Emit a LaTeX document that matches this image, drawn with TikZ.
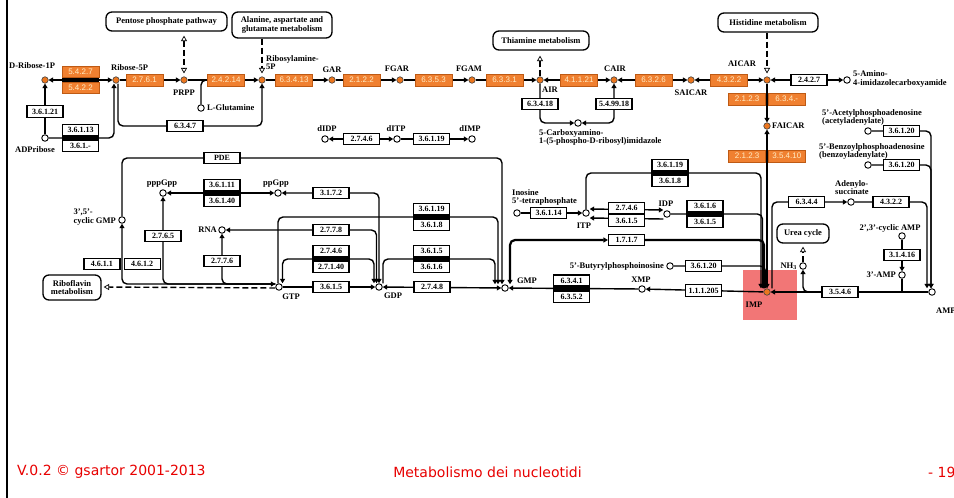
\documentclass[tikz,border=0pt]{standalone}
\usepackage{fontspec}
\setmainfont{Liberation Serif}
\newfontfamily\kgSansFam{Liberation Sans}
\newfontfamily\kgFootFam{DejaVu Sans}
\usetikzlibrary{arrows.meta,backgrounds}

\definecolor{kgorange}{RGB}{240,128,48}
\definecolor{kgedge}{RGB}{190,90,20}
\definecolor{kgtext}{RGB}{255,236,196}
\definecolor{kgdot}{RGB}{235,118,30}
\definecolor{imphi}{RGB}{242,118,118}
\definecolor{footred}{RGB}{232,0,0}

\newcommand\kgEnzFont{\fontsize{8}{8.5}\selectfont\bfseries}
\newcommand\kgOrgFont{\kgSansFam\fontsize{8}{8.5}\selectfont}
\newcommand\kgLabFont{\fontsize{8.5}{8.2}\selectfont\bfseries}
\newcommand\kgFootFont{\kgFootFam\fontsize{14}{15}\selectfont}

% two stacked enzyme boxes with the reaction line running between them
\newcommand\kgpair[6][enz]{%
  \coordinate (#2) at (#3,#4);
  \node[#1,anchor=south,minimum height=11pt] (#2a) at (#3,#4-2) {#5};
  \node[#1,anchor=north,minimum height=11pt] (#2b) at (#3,#4+2) {#6};
  \fill (#2a.south west) rectangle (#2b.north east);
}

\tikzset{
  enz/.style={draw=black, line width=1.1pt, fill=white, minimum width=36pt,
    minimum height=11.5pt, inner sep=0pt, font=\kgEnzFont},
  oenz/.style={draw=kgedge, line width=0.6pt, fill=kgorange, minimum width=37pt,
    minimum height=12pt, inner sep=0pt, font=\kgOrgFont, text=kgtext},
  cpd/.style={circle, draw=black, line width=0.9pt, fill=white,
    minimum size=6.5pt, inner sep=0pt},
  ocpd/.style={cpd, fill=kgdot, draw=black!75, line width=0.6pt},
  lab/.style={font=\kgLabFont, inner sep=0pt, align=left},
  mapbox/.style={draw=black, line width=1.3pt, rounded corners=6pt, fill=white,
    inner sep=0pt, font=\kgLabFont, align=center},
  rx/.style={line width=1.4pt, rounded corners=5pt},
  klink/.style={line width=1.4pt, dash pattern=on 6pt off 3pt},
  kfw/.style={-{Triangle[length=4.5pt,width=5pt]}},
  kbi/.style={{Triangle[length=4.5pt,width=5pt]}-{Triangle[length=4.5pt,width=5pt]}},
  kofw/.style={-{Triangle[open,length=5.5pt,width=6pt,line width=0.7pt]}},
  kobi/.style={{Triangle[open,length=5.5pt,width=6pt,line width=0.7pt]}-{Triangle[open,length=5.5pt,width=6pt,line width=0.7pt]}},
  foot/.style={font=\kgFootFont, text=footred, inner sep=0pt},
}

\begin{document}
\begin{tikzpicture}[x=1pt,y=-1pt]
\useasboundingbox (0,0) rectangle (954,498);

% ---------- pathway maps ----------
\node[mapbox, minimum width=121pt, minimum height=19pt] (mppp) at (166.5,21.5) {Pentose phosphate pathway};
\node[mapbox, minimum width=100pt, minimum height=26pt] (mala) at (282,25) {Alanine, aspartate and\\glutamate metabolism};
\node[mapbox, minimum width=96pt, minimum height=19pt] (mthi) at (541,40.5) {Thiamine metabolism};
\node[mapbox, minimum width=100pt, minimum height=19pt] (mhis) at (768,22.5) {Histidine metabolism};
\node[mapbox, minimum width=58pt, minimum height=25pt] (mrib) at (72,287.5) {Riboflavin\\metabolism};
\node[mapbox, minimum width=52pt, minimum height=19pt] (murea) at (803,233.5) {Urea cycle};

% ---------- compounds ----------
\node[ocpd] (dr1p) at (45,80) {};
\node[ocpd] (r5p) at (116,80) {};
\node[ocpd] (prpp) at (184,80) {};
\node[ocpd] (ra5p) at (262,80) {};
\node[ocpd] (gar) at (332,80) {};
\node[ocpd] (fgar) at (400,80) {};
\node[ocpd] (fgam) at (472,80) {};
\node[ocpd] (air) at (540,80) {};
\node[ocpd] (cair) at (614,80) {};
\node[ocpd] (saicar) at (691,80) {};
\node[ocpd] (aicar) at (767,80) {};
\node[ocpd] (faicar) at (767,126) {};
\node[ocpd] (imp) at (767,292) {};
\node[cpd] (adpr) at (45,138) {};
\node[cpd] (lgln) at (201,108) {};
\node[cpd] (cai) at (578,123) {};
\node[cpd] (aica) at (847,80) {};
\node[cpd] (didp) at (325,139) {};
\node[cpd] (ditp) at (397,139) {};
\node[cpd] (dimp) at (472,139) {};
\node[cpd] (cgmp) at (122,220) {};
\node[cpd] (pppgpp) at (163,193) {};
\node[cpd] (ppgpp) at (278,193) {};
\node[cpd] (rna) at (222,230) {};
\node[cpd] (gtp) at (279,287) {};
\node[cpd] (gdp) at (379,287) {};
\node[cpd] (gmp) at (505,288) {};
\node[cpd] (xmp) at (642,289) {};
\node[cpd] (itetra) at (517,213) {};
\node[cpd] (itp) at (586,213) {};
\node[cpd] (idp) at (667,214) {};
\node[cpd] (bpi) at (670,266) {};
\node[cpd] (adsuc) at (851,202) {};
\node[cpd] (acpa) at (868,131) {};
\node[cpd] (bzpa) at (868,165) {};
\node[cpd] (nh3) at (803,266) {};
\node[cpd] (cyamp) at (902,236) {};
\node[cpd] (amp3) at (902,275) {};
\node[cpd] (amp) at (932,292) {};

% ---------- compound names ----------
\node[lab, anchor=west] (ldr1p) at (9,66) {D-Ribose-1P};
\node[lab, anchor=west] (lr5p) at (111,68) {Ribose-5P};
\node[lab] (lprpp) at (184,93) {PRPP};
\node[lab, anchor=south west] (lra5p) at (266,70) {Ribosylamine-\\5P};
\node[lab] (lgar) at (332,70) {GAR};
\node[lab] (lfgar) at (397,69) {FGAR};
\node[lab] (lfgam) at (469,69) {FGAM};
\node[lab, anchor=west] (lair) at (542,90) {AIR};
\node[lab] (lcair) at (615,69) {CAIR};
\node[lab] (lsaicar) at (691,93) {SAICAR};
\node[lab] (laicar) at (742,64) {AICAR};
\node[lab, anchor=west] (lfaicar) at (772,126) {FAICAR};
\node[lab] (limp) at (754,305) {IMP};
\node[lab] (ladpr) at (35,150) {ADPribose};
\node[lab, anchor=west] (llgln) at (207,108) {L-Glutamine};
\node[lab, anchor=north west] (lcai) at (539,129) {5-Carboxyamino-\\1-(5-phospho-D-ribosyl)imidazole};
\node[lab, anchor=west] (laica) at (853,79) {5-Amino-\\4-imidazolecarboxyamide};
\node[lab] (ldidp) at (327,129) {dIDP};
\node[lab] (lditp) at (396,129) {dITP};
\node[lab] (ldimp) at (470,129) {dIMP};
\node[lab, anchor=east] (lcgmp) at (116,217) {3',5'-\\cyclic GMP};
\node[lab] (lpppgpp) at (162,184) {pppGpp};
\node[lab] (lppgpp) at (276,184) {ppGpp};
\node[lab, anchor=east] (lrna) at (217,230) {RNA};
\node[lab] (lgtp) at (291,297) {GTP};
\node[lab] (lgdp) at (393,296) {GDP};
\node[lab] (lgmp) at (527,281) {GMP};
\node[lab] (lxmp) at (641,280) {XMP};
\node[lab, anchor=south west] (litetra) at (512,206) {Inosine\\5'-tetraphosphate};
\node[lab] (litp) at (584,226) {ITP};
\node[lab] (lidp) at (666,204) {IDP};
\node[lab, anchor=east] (lbpi) at (664,266) {5'-Butyrylphosphoinosine};
\node[lab] (ladsuc) at (852,188) {Adenylo-\\succinate};
\node[lab, anchor=south west] (lacpa) at (822,126) {5'-Acetylphosphoadenosine\\(acetyladenylate)};
\node[lab, anchor=south west] (lbzpa) at (819,160) {5'-Benzoylphosphoadenosine\\(benzoyladenylate)};
\node[lab, anchor=east] (lnh3) at (797,266) {NH\textsubscript{3}};
\node[lab] (lcyamp) at (890,228) {2',3'-cyclic AMP};
\node[lab, anchor=east] (lamp3) at (896,275) {3'-AMP};
\node[lab, anchor=west] (lamp) at (936,311) {AMP};

% ---------- enzymes: de novo row ----------
\kgpair[oenz]{q0}{80.5}{80}{5.4.2.7}{5.4.2.2}
\node[oenz] (e2761) at (144.5,80) {2.7.6.1};
\node[oenz] (e24214) at (226,80) {2.4.2.14};
\node[oenz] (e63413) at (294,80) {6.3.4.13};
\node[oenz] (e2122) at (361.5,80) {2.1.2.2};
\node[oenz] (e6353) at (433.5,80) {6.3.5.3};
\node[oenz] (e6331) at (504.5,80) {6.3.3.1};
\node[oenz] (e41121) at (579,80) {4.1.1.21};
\node[oenz] (e6326) at (653.5,80) {6.3.2.6};
\node[oenz] (e4322) at (729,80) {4.3.2.2};
\node[oenz, anchor=east] (e2123a) at (766,99) {2.1.2.3};
\node[oenz, anchor=west] (e634x) at (768,99) {6.3.4.-};
\node[oenz, anchor=east] (e2123b) at (766,156) {2.1.2.3};
\node[oenz, anchor=west] (e35410) at (768,156) {3.5.4.10};
\node[enz] (e2427) at (809,80) {2.4.2.7};
\node[enz] (e36121) at (45,111.5) {3.6.1.21};
\kgpair{q1}{80.5}{138}{3.6.1.13}{3.6.1.-}
\node[enz] (e6347) at (185,126) {6.3.4.7};
\node[enz] (e63418) at (540,104) {6.3.4.18};
\node[enz] (e549918) at (614,104) {5.4.99.18};

% ---------- enzymes: guanine / inosine part ----------
\node[enz] (e2746d) at (361.5,139) {2.7.4.6};
\node[enz] (e36119d) at (431.5,139) {3.6.1.19};
\node[enz] (epde) at (222,158) {PDE};
\kgpair{q2}{222}{193}{3.6.1.11}{3.6.1.40}
\node[enz] (e2765) at (163,236) {2.7.6.5};
\node[enz] (e2776) at (222,261) {2.7.7.6};
\node[enz, anchor=east] (e4611) at (120.5,264) {4.6.1.1};
\node[enz, anchor=west] (e4612) at (123.5,264) {4.6.1.2};
\node[enz] (e3172) at (331,193) {3.1.7.2};
\node[enz] (e2778) at (331,230) {2.7.7.8};
\kgpair{q3}{331}{259}{2.7.4.6}{2.7.1.40}
\node[enz] (e3615g) at (331,287) {3.6.1.5};
\kgpair{q4}{431.5}{217}{3.6.1.19}{3.6.1.8}
\kgpair{q5}{431.5}{259}{3.6.1.5}{3.6.1.6}
\node[enz] (e2748) at (432,287) {2.7.4.8};
\kgpair{q6}{571.5}{288.5}{6.3.4.1}{6.3.5.2}
\node[enz] (e1717) at (626.5,240) {1.7.1.7};
\node[enz] (e36114) at (548.5,213) {3.6.1.14};
\node[enz] (e2746i) at (626.5,208) {2.7.4.6};
\node[enz] (e3615i) at (626.5,220.5) {3.6.1.5};
\kgpair{q7}{670}{173}{3.6.1.19}{3.6.1.8}
\kgpair{q8}{705}{214}{3.6.1.6}{3.6.1.5}
\node[enz] (e36120i) at (703.5,266) {3.6.1.20};
\node[enz] (e111205) at (703.5,290.5) {1.1.1.205};

% ---------- enzymes: adenine part ----------
\node[enz] (e6344) at (806.5,202) {6.3.4.4};
\node[enz] (e4322w) at (891,202) {4.3.2.2};
\node[enz] (e36120a) at (901.5,131) {3.6.1.20};
\node[enz] (e36120b) at (901.5,165) {3.6.1.20};
\node[enz] (e31416) at (902,255) {3.1.4.16};
\node[enz] (e3546) at (840,292) {3.5.4.6};

% ---------- footer ----------
\node[foot, anchor=west] (fver) at (17,472) {V.0.2 © gsartor 2001-2013};
\node[foot] (ftitle) at (487.5,472) {Metabolismo dei nucleotidi};
\node[foot, anchor=west] (fpage) at (928,472) {- 19};

\begin{scope}[on background layer]
  \fill[white] (0,0) rectangle (954,498);
  \draw[line width=2pt] (7,0) -- (7,498);
  % highlighted IMP
  \fill[imphi] (743,270) rectangle (797,320);

  % links to other maps
  \draw[klink, kobi, shorten <=4pt, shorten >=3pt] (prpp |- mppp.south) -- (prpp.north);
  \draw[klink, kofw, shorten >=3pt] (ra5p |- mala.south) -- (ra5p.north);
  \draw[klink, kofw, shorten >=5pt] (air.north) -- (air |- mthi.south);
  \draw[klink, kofw, shorten >=3pt] (aicar |- mhis.south) -- (aicar.north);
  \draw[klink, kofw, shorten >=3pt] (nh3.north) -- (nh3 |- murea.south);
  \draw[klink, kofw, shorten >=2pt] ([yshift=-1pt]gtp.west) -- (gtp.west -| mrib.east);

  % de novo IMP synthesis
  \draw[rx, kbi] (dr1p) -- (r5p);
  \draw[rx, kfw] (r5p) -- (prpp);
  \draw[rx, kfw] (prpp) -- (ra5p);
  \draw[rx] (lgln) |- (e24214.west);
  \draw[rx, kfw] (ra5p) -- (gar);
  \draw[rx, kfw] (gar) -- (fgar);
  \draw[rx, kfw] (fgar) -- (fgam);
  \draw[rx, kfw] (fgam) -- (air);
  \draw[rx, kbi] (air) -- (cair);
  \draw[rx, kbi] (cair) -- (saicar);
  \draw[rx, kbi] (saicar) -- (aicar);
  \draw[rx, kbi] (aicar) -- (aica);
  \draw[rx, kfw] (aicar) -- (faicar);
  \draw[rx, kbi] (faicar) -- (imp.north);
  \draw[rx, kfw] (adpr) -- (dr1p);
  \draw[rx, kfw] (adpr) -| ([xshift=-2pt]r5p.south);
  \draw[rx, kfw] ([xshift=2pt]r5p.south) |- (e6347) -| (ra5p.south);
  \draw[rx, kfw] (air) |- (cai);
  \draw[rx, kbi] (cai) -| (cair);

  % deoxyinosine phosphates
  \draw[rx, kbi] (didp) -- (ditp);
  \draw[rx, kfw] (ditp) -- (dimp);

  % guanine nucleotides
  \draw[rx, kfw] (cgmp) |- (epde) -| ([xshift=-3pt]gmp.north);
  \draw[rx, kbi] (cgmp) |- ([yshift=3pt]gtp.west);
  \draw[rx, kfw] ([yshift=3pt]gtp.west) -| (pppgpp);
  \draw[rx, kfw] ([yshift=3pt]gtp.west) -| (rna);
  \draw[rx, kbi] (pppgpp) -- (ppgpp);
  \draw[rx, kbi] (ppgpp) -| (gdp.north);
  \draw[rx, kbi] (rna) -| ([xshift=-2.5pt]gdp.north);
  \draw[rx, kbi] ([xshift=3.5pt]gtp.north) |- (q3) -| ([xshift=-5pt]gdp.north);
  \draw[rx, kfw] (gtp) -- (gdp);
  \draw[rx, kfw] ([xshift=-1pt]gtp.north) |- (q4) -| ([xshift=-7pt]gmp.north);
  \draw[rx, kfw] ([xshift=4pt]gdp.north) |- (q5) -| ([xshift=-10pt]gmp.north);
  \draw[rx, kbi] (gdp) -- (gmp);
  \draw[rx, kfw] (xmp) -- (gmp);
  \draw[rx, kfw] (imp) -- (xmp);
  \draw[rx, kbi, line width=2.2pt] ([xshift=-3pt]imp.north) |- (e1717) -| ([xshift=5pt]gmp.north);

  % inosine nucleotides
  \draw[rx, kfw] (itetra) -- (itp);
  \draw[rx, kbi] ([yshift=4pt]itp.east) -- ([yshift=4pt]idp.west);
  \draw[rx, kfw] ([yshift=-5pt]idp.west) -- ([yshift=-5pt]itp.east);
  \draw[rx, kfw] (itp) |- (q7) -| ([xshift=-6pt]imp.north);
  \draw[rx, kfw] (idp) -| ([xshift=-4.5pt]imp.north);
  \draw[rx, kfw] (bpi) -| ([xshift=-1.5pt]imp.north);

  % adenine nucleotides
  \draw[rx, kfw] ([xshift=5pt]imp.north) |- (adsuc);
  \draw[rx, kfw] (adsuc) -| ([xshift=-5pt]amp.north);
  \draw[rx, kfw] (acpa) -| ([xshift=-1pt]amp.north);
  \draw[rx, kfw] (bzpa) -| ([xshift=-1pt]amp.north);
  \draw[rx, kfw] (amp) -- (imp);
  \draw[rx, kfw] (e3546.west) -| (nh3);
  \draw[rx, kfw] (cyamp) -- (amp3);
  \draw[rx] (amp3) -- (amp3 |- e3546.center);
\end{scope}
\end{tikzpicture}
\end{document}
